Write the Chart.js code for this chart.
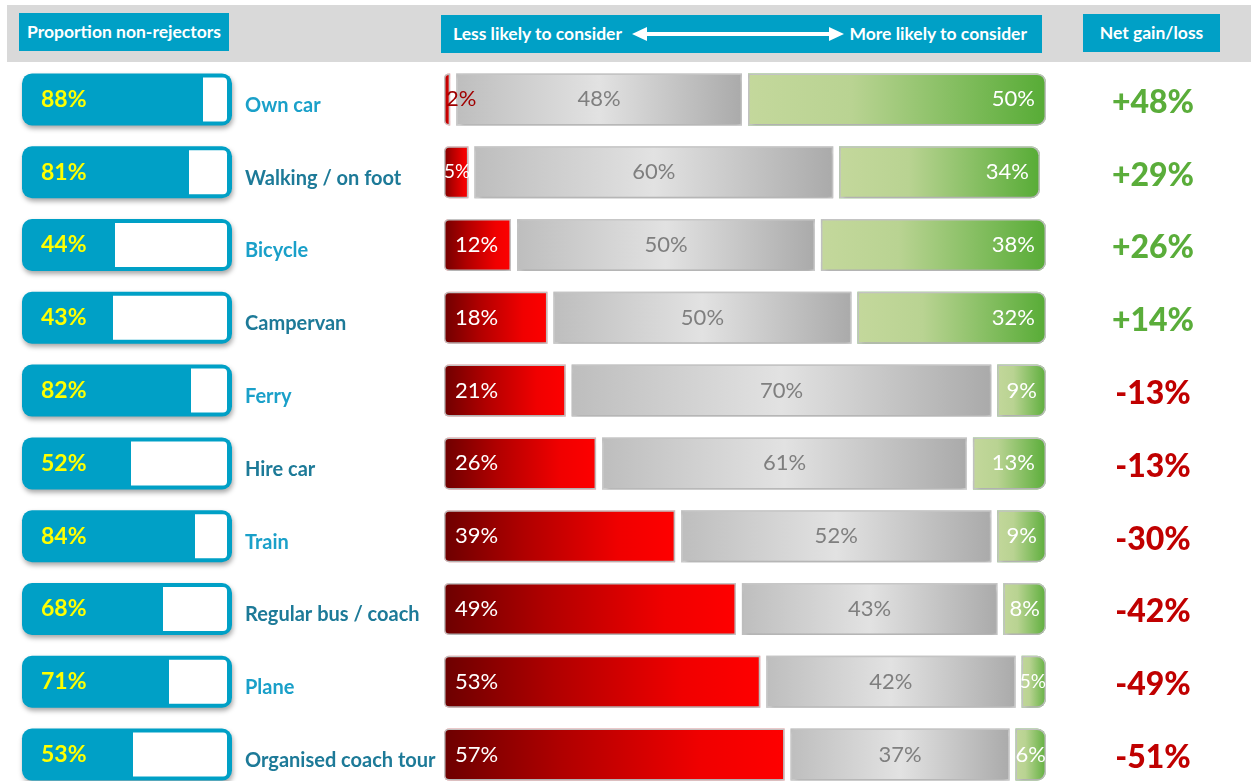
<!DOCTYPE html>
<html>
<head>
<meta charset="utf-8">
<script src="https://cdn.jsdelivr.net/npm/chart.js@4.4.1/dist/chart.umd.min.js"></script>
<style>
  html, body { margin: 0; padding: 0; background: #fff; width: 1251px; height: 781px; overflow: hidden; font-family: Lato, sans-serif; }
  .band { position: absolute; left: 7px; top: 5px; width: 1244px; height: 57px; background: #d9d9d9; }
  .hbox { position: absolute; background: #00a0c6; color: #fff; font-weight: bold; font-size: 17.5px; height: 38px; line-height: 38px; }
  .hbox span { position: absolute; white-space: nowrap; }
  #leftWrap { position: absolute; left: 0; top: 63px; width: 440px; height: 728px; }
  #mainWrap { position: absolute; left: 430px; top: 63px; width: 821px; height: 728px; }
</style>
</head>
<body>
<div class="band"></div>
<div class="hbox" style="left:19px;top:13px;width:210px;text-align:center;">Proportion non-rejectors</div>
<div class="hbox" style="left:441px;top:15px;width:601px;">
  <span style="left:12px;">Less likely to consider</span>
  <svg style="position:absolute;left:191px;top:9px;" width="212" height="20" viewBox="0 0 212 20">
    <line x1="12" y1="10" x2="200" y2="10" stroke="#fff" stroke-width="4"/>
    <polygon points="0,10 15,3 15,17" fill="#fff"/>
    <polygon points="212,10 197,3 197,17" fill="#fff"/>
  </svg>
  <span style="right:15px;">More likely to consider</span>
</div>
<div class="hbox" style="left:1083px;top:14px;width:137px;text-align:center;">Net gain/loss</div>

<div id="leftWrap"><canvas id="leftChart"></canvas></div>
<div id="mainWrap"><canvas id="mainChart"></canvas></div>

<script>
  // Transport modes, top to bottom
  var CATEGORIES = ['Own car', 'Walking / on foot', 'Bicycle', 'Campervan', 'Ferry',
    'Hire car', 'Train', 'Regular bus / coach', 'Plane', 'Organised coach tour'];
  // Proportion non-rejectors (%)
  var NON_REJECTORS = [88, 81, 44, 43, 82, 52, 84, 68, 71, 53];
  // Less likely / no change / more likely to consider (%)
  var LESS_LIKELY = [2, 5, 12, 18, 21, 26, 39, 49, 53, 57];
  var NO_CHANGE = [48, 60, 50, 50, 70, 61, 52, 43, 42, 37];
  var MORE_LIKELY = [50, 34, 38, 32, 9, 13, 9, 8, 5, 6];
  // Net gain/loss as printed (%)
  var NET_CHANGE = [48, 29, 26, 14, -13, -13, -30, -42, -49, -51];

  var BLUE = '#00a0c6';
  var FONT = 'Lato, sans-serif';

  /* Drop shadow under bars: wraps each dataset draw in a shadowed ctx state. */
  function shadowPlugin(indices) {
    return {
      id: 'barShadow',
      beforeDatasetDraw: function (chart, args) {
        if (indices.indexOf(args.index) === -1) return;
        var ctx = chart.ctx;
        ctx.save();
        ctx.shadowColor = 'rgba(0,0,0,0.35)';
        ctx.shadowBlur = 5;
        ctx.shadowOffsetX = 1;
        ctx.shadowOffsetY = 3;
      },
      afterDatasetDraw: function (chart, args) {
        if (indices.indexOf(args.index) === -1) return;
        chart.ctx.restore();
      }
    };
  }

  /* Horizontal gradient stretched over one stacked segment. */
  function gradientFor(stops, startOf, endOf) {
    return function (c) {
      var chart = c.chart;
      if (!chart.chartArea || c.dataIndex === undefined) return stops[0][1];
      var xs = chart.scales.x;
      var x0 = xs.getPixelForValue(startOf(c.dataIndex));
      var x1 = xs.getPixelForValue(endOf(c.dataIndex));
      if (x1 - x0 < 1) x1 = x0 + 1;
      var g = chart.ctx.createLinearGradient(x0, 0, x1, 0);
      stops.forEach(function (s) { g.addColorStop(s[0], s[1]); });
      return g;
    };
  }

  // ---------- left: proportion non-rejectors ----------
  var leftLabels = {
    id: 'leftLabels',
    afterDatasetsDraw: function (chart) {
      var ctx = chart.ctx;
      var area = chart.chartArea;
      var ys = chart.scales.y;
      ctx.save();
      ctx.textBaseline = 'middle';
      CATEGORIES.forEach(function (name, i) {
        var y = ys.getPixelForValue(i);
        ctx.font = 'bold 23px ' + FONT;
        ctx.fillStyle = '#ffff00';
        ctx.textAlign = 'left';
        ctx.fillText(NON_REJECTORS[i] + '%', area.left + 14, y);
        ctx.font = 'bold 20px ' + FONT;
        ctx.fillStyle = i % 2 === 0 ? '#1aa0c9' : '#1d7a98';
        ctx.fillText(name, area.right + 18, y + 6);
      });
      ctx.restore();
    }
  };

  new Chart(document.getElementById('leftChart'), {
    type: 'bar',
    data: {
      labels: CATEGORIES,
      datasets: [
        {
          label: 'frame',
          data: CATEGORIES.map(function () { return 100; }),
          stack: 'frame',
          order: 2,
          grouped: false,
          backgroundColor: BLUE,
          barThickness: 42,
          inflateAmount: 5,
          borderRadius: 10,
          borderSkipped: false,
          clip: false
        },
        {
          label: 'Non-rejectors',
          data: NON_REJECTORS,
          stack: 'v',
          order: 1,
          grouped: false,
          backgroundColor: BLUE,
          barThickness: 44,
          inflateAmount: 0,
          clip: false
        },
        {
          label: 'Rejectors',
          data: NON_REJECTORS.map(function (v) { return 100 - v; }),
          stack: 'v',
          order: 1,
          grouped: false,
          backgroundColor: '#ffffff',
          barThickness: 44,
          inflateAmount: 0,
          borderRadius: { topRight: 4, bottomRight: 4 },
          borderSkipped: false,
          clip: false
        }
      ]
    },
    options: {
      indexAxis: 'y',
      responsive: true,
      maintainAspectRatio: false,
      animation: false,
      layout: { padding: { left: 27, right: 213, top: 0, bottom: 0 } },
      plugins: { legend: { display: false }, tooltip: { enabled: false } },
      scales: {
        x: { display: false, stacked: true, min: 0, max: 100 },
        y: { display: false, stacked: true }
      }
    },
    plugins: [shadowPlugin([0]), leftLabels]
  });

  // ---------- middle: less / same / more likely ----------
  var RED_STOPS = [[0, '#6b0000'], [0.35, '#b00000'], [0.75, '#f00000'], [1, '#ff0000']];
  var GRAY_STOPS = [[0, '#bdbdbd'], [0.5, '#e2e2e2'], [1, '#a9a9a9']];
  var GREEN_STOPS = [[0, '#c4d89c'], [0.35, '#b9d392'], [1, '#55ab34']];

  /* Pick font/colour/padding for an end label. Wide bars: 22px, fixed pad.
     Narrow bars: largest size that fits, centred in the bar. Otherwise dark text. */
  function endLabel(ctx, txt, barWidth, darkColor) {
    var visible = barWidth - 6;
    var sizes = [22, 19, 17];
    for (var s = 0; s < sizes.length; s++) {
      ctx.font = sizes[s] + 'px ' + FONT;
      var tw = ctx.measureText(txt).width;
      if (visible >= 60) return { color: '#ffffff', pad: 14 };
      if (tw <= visible + 2) return { color: '#ffffff', pad: 3 + Math.max(0, (visible - tw) / 2) };
    }
    ctx.font = '22px ' + FONT;
    return { color: darkColor, pad: 5 };
  }

  var mainLabels = {
    id: 'mainLabels',
    afterDatasetsDraw: function (chart) {
      var ctx = chart.ctx;
      var area = chart.chartArea;
      var xs = chart.scales.x;
      var ys = chart.scales.y;
      ctx.save();
      ctx.textBaseline = 'middle';
      CATEGORIES.forEach(function (name, i) {
        var y = ys.getPixelForValue(i);
        var r0 = xs.getPixelForValue(0);
        var r1 = xs.getPixelForValue(LESS_LIKELY[i]);
        var g1 = xs.getPixelForValue(LESS_LIKELY[i] + NO_CHANGE[i]);
        var m1 = xs.getPixelForValue(LESS_LIKELY[i] + NO_CHANGE[i] + MORE_LIKELY[i]);

        var redTxt = LESS_LIKELY[i] + '%';
        var rl = endLabel(ctx, redTxt, r1 - r0, '#a00000');
        ctx.textAlign = 'left';
        ctx.fillStyle = rl.color;
        ctx.fillText(redTxt, r0 + rl.pad, y);

        ctx.font = '22px ' + FONT;
        ctx.textAlign = 'center';
        ctx.fillStyle = '#7f7f7f';
        ctx.fillText(NO_CHANGE[i] + '%', (r1 + g1) / 2, y);

        var greenTxt = MORE_LIKELY[i] + '%';
        var gl = endLabel(ctx, greenTxt, m1 - g1, '#3f8a26');
        ctx.textAlign = 'right';
        ctx.fillStyle = gl.color;
        ctx.fillText(greenTxt, m1 - gl.pad, y);

        var net = NET_CHANGE[i];
        ctx.font = '900 32px ' + FONT;
        ctx.textAlign = 'center';
        ctx.fillStyle = net > 0 ? '#5aad3a' : '#c00000';
        ctx.fillText((net > 0 ? '+' : '') + net + '%', area.right + 104, y + 3);
      });
      ctx.restore();
    }
  };

  function barStyle(extra) {
    var base = {
      barThickness: 58,
      inflateAmount: -3,
      borderWidth: 1.5,
      borderSkipped: false,
      clip: false
    };
    for (var k in extra) base[k] = extra[k];
    return base;
  }

  new Chart(document.getElementById('mainChart'), {
    type: 'bar',
    data: {
      labels: CATEGORIES,
      datasets: [
        barStyle({
          label: 'Less likely',
          data: LESS_LIKELY,
          backgroundColor: gradientFor(RED_STOPS,
            function () { return 0; },
            function (i) { return LESS_LIKELY[i]; }),
          borderColor: '#ff7c80',
          borderRadius: { topLeft: 5, bottomLeft: 5 }
        }),
        barStyle({
          label: 'No change',
          data: NO_CHANGE,
          backgroundColor: gradientFor(GRAY_STOPS,
            function (i) { return LESS_LIKELY[i]; },
            function (i) { return LESS_LIKELY[i] + NO_CHANGE[i]; }),
          borderColor: '#a6a6a6',
          borderRadius: 0
        }),
        barStyle({
          label: 'More likely',
          data: MORE_LIKELY,
          backgroundColor: gradientFor(GREEN_STOPS,
            function (i) { return LESS_LIKELY[i] + NO_CHANGE[i]; },
            function (i) { return LESS_LIKELY[i] + NO_CHANGE[i] + MORE_LIKELY[i]; }),
          borderColor: '#5aad3a',
          borderRadius: { topRight: 9, bottomRight: 9 }
        })
      ]
    },
    options: {
      indexAxis: 'y',
      responsive: true,
      maintainAspectRatio: false,
      animation: false,
      layout: { padding: { left: 11, right: 202, top: 0, bottom: 0 } },
      plugins: { legend: { display: false }, tooltip: { enabled: false } },
      scales: {
        x: { display: false, stacked: true, min: 0, max: 100 },
        y: { display: false, stacked: true }
      }
    },
    plugins: [shadowPlugin([0, 1, 2]), mainLabels]
  });
</script>
</body>
</html>
